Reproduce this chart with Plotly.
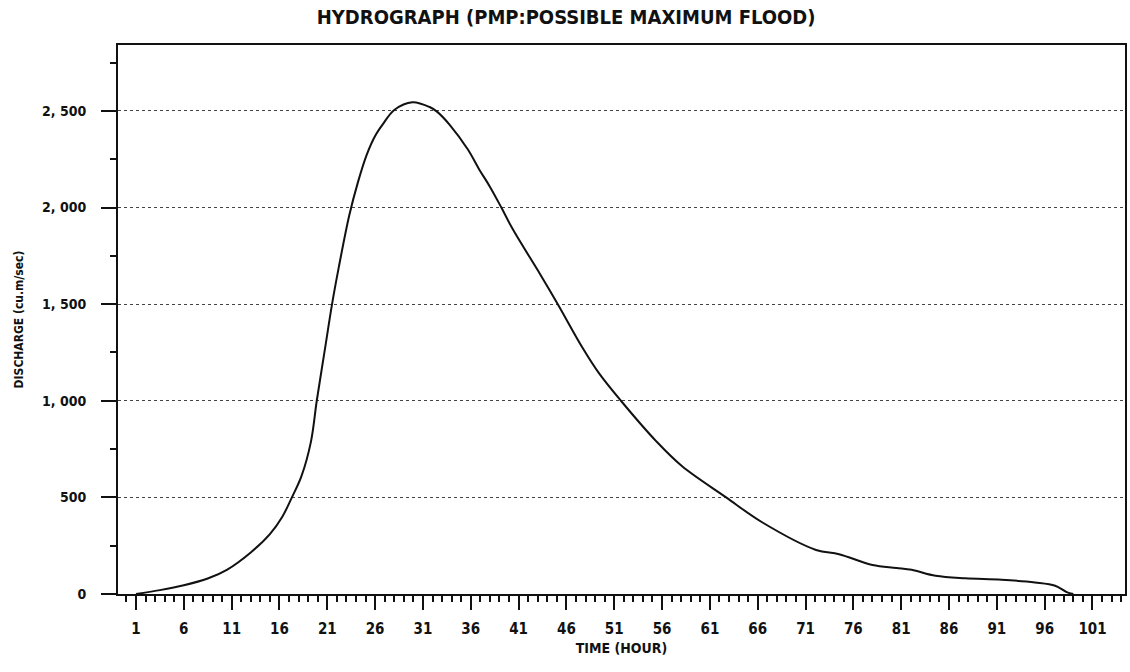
import plotly.graph_objects as go

hours = [1, 3.5, 6, 8.5, 10.5, 13, 15, 16.3, 17.3, 18.3, 19.3, 19.9, 20.7, 21.5, 22.2,
         23.3, 24.2, 25.1, 26.0, 26.8, 28.0, 29.9, 31.7, 32.5, 33.8, 35.7, 36.9, 38.0,
         39.2, 40.4, 43.3, 45.1, 47.7, 49.4, 51.7, 55.4, 58.1, 62.7, 66.5, 72.1, 74.5,
         78.0, 80.5, 82.1, 84.6, 87.7, 91.5, 95.0, 97.1, 98.3, 99.0]
discharge = [0, 20, 45, 80, 125, 215, 310, 400, 500, 610, 790, 1000, 1250, 1500, 1690,
             1960, 2130, 2270, 2370, 2430, 2505, 2545, 2520, 2495, 2428, 2300, 2196, 2108,
             2000, 1887, 1651, 1500, 1273, 1143, 1000, 790, 661, 500, 370, 228, 206,
             150, 135, 125, 94, 81, 74, 60, 43, 10, 0]

x_tickvals = list(range(1, 102, 5))
x_ticktext = [str(v) for v in x_tickvals]
y_tickvals = [0, 500, 1000, 1500, 2000, 2500]
y_ticktext = ["0", "500", "1, 000", "1, 500", "2, 000", "2, 500"]

title_text = "HYDROGRAPH (PMP:POSSIBLE MAXIMUM FLOOD)"
x_title = "TIME (HOUR)"
y_title = "DISCHARGE (cu.m/sec)"

FONT = "Liberation Sans Narrow, DejaVu Sans Condensed, Liberation Sans, sans-serif"

fig = go.Figure()
fig.add_trace(go.Scatter(
    x=hours, y=discharge, mode="lines",
    line=dict(color="#111111", width=2, shape="spline", smoothing=1.0),
    showlegend=False, hoverinfo="x+y",
))

fig.update_layout(
    width=1130, height=672,
    margin=dict(l=118, r=3, t=45, b=78),
    paper_bgcolor="white", plot_bgcolor="white",
    title=dict(text=title_text, x=0.501, xanchor="center", y=0.975, yanchor="middle",
               font=dict(family=FONT, size=20, color="#111111", weight="bold")),
    font=dict(family=FONT, color="#111111"),
)

fig.update_xaxes(
    range=[-0.88, 104.4],
    tickmode="array", tickvals=x_tickvals, ticktext=x_ticktext,
    ticks="outside", ticklen=14, tickwidth=2, tickcolor="#111111",
    minor=dict(dtick=1, tick0=0, ticks="outside", ticklen=6, tickwidth=1.5, tickcolor="#111111"),
    showline=True, linecolor="#111111", linewidth=2, mirror=True,
    showgrid=False, zeroline=False,
    tickfont=dict(family=FONT, size=15, color="#111111", weight="bold"),
    ticklabelstandoff=6,
    title=dict(text=x_title, font=dict(family=FONT, size=14, color="#111111", weight="bold"),
               standoff=6),
)

fig.update_yaxes(
    range=[0, 2841],
    tickmode="array", tickvals=y_tickvals, ticktext=y_ticktext,
    ticks="outside", ticklen=15, tickwidth=2, tickcolor="#111111",
    minor=dict(dtick=250, tick0=0, ticks="outside", ticklen=6, tickwidth=1.5, tickcolor="#111111",
               showgrid=False),
    showline=True, linecolor="#111111", linewidth=2, mirror=True,
    showgrid=True, gridcolor="#444444", gridwidth=1, griddash="dot",
    zeroline=False,
    tickfont=dict(family=FONT, size=14, color="#111111", weight="bold"),
    ticklabelstandoff=12,
    title=dict(text=y_title, font=dict(family=FONT, size=12, color="#111111", weight="bold"),
               standoff=16),
)

fig.write_html("out.html")
